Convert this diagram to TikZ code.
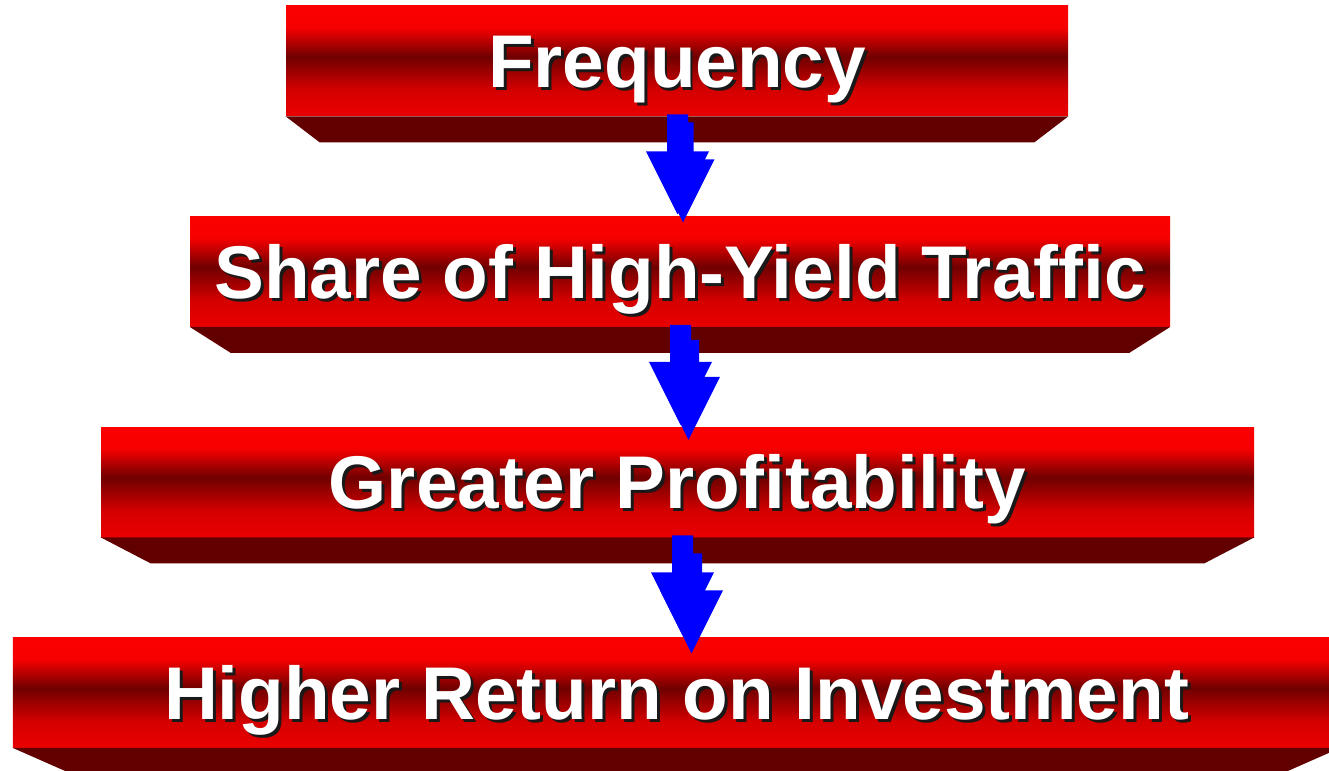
\documentclass[tikz,border=0pt]{standalone}
\usepackage{fontspec}
\setmainfont{Liberation Sans}
\usepackage{tikz}
\usetikzlibrary{positioning,calc}

\definecolor{barbright}{RGB}{252,0,0}
\definecolor{barhigh}{RGB}{245,0,0}
\definecolor{barlow}{RGB}{234,0,0}
\definecolor{barmid}{RGB}{212,0,0}
\definecolor{bardark}{RGB}{112,0,0}
\definecolor{bevelred}{RGB}{98,0,0}
\definecolor{arrowblue}{RGB}{0,0,255}

% red bar, bright at the edges and dark a little above the middle
\pgfdeclareverticalshading{redbar}{100bp}{color(0bp)=(barlow); color(25bp)=(barlow);
  color(37bp)=(barmid); color(52bp)=(bardark); color(65bp)=(barhigh);
  color(75bp)=(barbright); color(100bp)=(barbright)}

% white text with a dark drop shadow
\newcommand\raised[1]{\makebox[0pt][l]{\kern1.7pt\raisebox{-1.7pt}{\color{black!90}#1}}#1}

% slanted underside of a bar
\newcommand\bevel[2]{\fill[bevelred] (#1.south west) -- (#1.south east) -- ++(-#2,-0.52)
  -- ($(#1.south west)+(#2,-0.52)$) -- cycle;}

% block arrow hanging from a bar, drawn twice with an offset copy behind
\newcommand\flowarrow[4]{%
  \foreach \sx/\sy in {#3/#4,0/0}
    \fill[arrowblue, shift={($(#1.south)+(#2+\sx,-\sy)$)}]
      (-0.21,0.04) -- (0.21,0.04) -- (0.21,-0.70) -- (0.63,-0.70)
      -- (0,-1.96) -- (-0.63,-0.70) -- (-0.21,-0.70) -- cycle;}

\begin{document}
\begin{tikzpicture}[node distance=4.21cm,
    barbox/.style={rectangle, shade, shading=redbar, minimum height=2.2cm, inner sep=0pt,
      text=white, font=\fontsize{42.5}{50}\selectfont\bfseries,
      text height=30.4pt, text depth=0pt}]

    \useasboundingbox (0,0) rectangle (26.58,-15.42);

    % Bars
    \node [barbox, minimum width=15.64cm] (freq) at (13.54,-1.22) {\raised{Frequency}};
    \node [barbox, minimum width=19.6cm, below of=freq, xshift=0.06cm] (share) {\raised{Share of High-Yield Traffic}};
    \node [barbox, minimum width=23.06cm, below of=share, xshift=-0.05cm] (profit) {\raised{Greater Profitability}};
    \node [barbox, minimum width=26.54cm, below of=profit, xshift=-0.02cm] (roi) {\raised{Higher Return on Investment}};

    % Undersides
    \bevel{freq}{0.68}
    \bevel{share}{0.82}
    \bevel{profit}{1.0}
    \bevel{roi}{1.18}

    % Arrows
    \flowarrow{freq}{0.01}{0.11}{0.16}
    \flowarrow{share}{0.01}{0.16}{0.30}
    \flowarrow{profit}{0.10}{0.18}{0.36}

\end{tikzpicture}
\end{document}
